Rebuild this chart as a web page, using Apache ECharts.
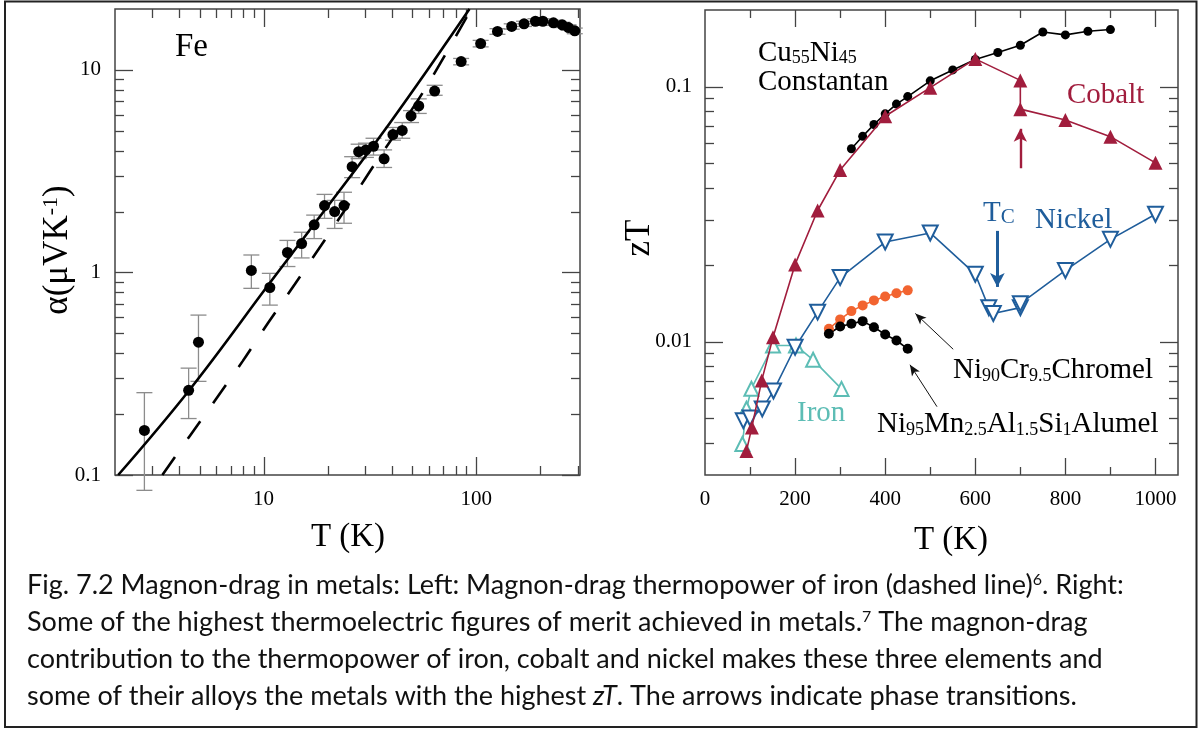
<!DOCTYPE html>
<html>
<head>
<meta charset="utf-8">
<script src="https://cdn.jsdelivr.net/npm/echarts@6/dist/echarts.min.js"></script>
<style>
  html, body { margin: 0; padding: 0; background: #fff; }
  #main { width: 1200px; height: 731px; }
</style>
</head>
<body>
<div id="main"></div>
<script>
// ---- left panel: Fe thermopower (log-log) ----
const feT     = [2.75, 4.44, 4.94, 8.76, 10.7, 12.95, 15.1, 17.3, 19.35, 21.6, 23.9, 26.1, 28.0, 30.3, 32.9, 36.9, 40.6, 44.9, 49.4, 53.7, 63.8, 85, 105, 126, 147, 168, 190, 206, 231, 254, 272, 291];
const feAlpha = [0.166, 0.262, 0.453, 1.024, 0.843, 1.255, 1.39, 1.72, 2.14, 2.0, 2.14, 3.33, 3.95, 4.03, 4.2, 3.64, 4.8, 5.03, 5.93, 6.64, 7.87, 11.0, 13.5, 15.5, 16.4, 16.9, 17.4, 17.4, 17.1, 16.7, 16.2, 15.6];
const feLow   = [0.084, 0.19, 0.29, 0.835, 0.69, 1.07, 1.18, 1.47, 1.85, 1.65, 1.75, 2.94, 3.65, 3.7, 3.8, 3.3, 4.5, 4.6, 5.5, 6.1, 7.5, 10.6, 13.0, 15.0, 15.9, 16.4, 16.9, 16.9, 16.6, 16.2, 15.7, 15.1];
const feHigh  = [0.255, 0.337, 0.616, 1.22, 0.99, 1.44, 1.58, 1.92, 2.43, 2.27, 2.49, 3.73, 4.3, 4.35, 4.6, 4.03, 5.2, 5.5, 6.3, 7.2, 8.4, 11.4, 14.0, 16.0, 16.9, 17.4, 17.9, 17.9, 17.6, 17.2, 16.7, 16.1];
// solid line (total) and dashed line (magnon drag)
const fitT      = [2.07, 4.48, 10.67, 15.3, 39.2, 93];
const fitAlpha  = [0.1, 0.263, 0.884, 1.46, 5.46, 20];
const dragT     = [3.34, 4.48, 7.96, 10.55, 14.05, 24.6, 32.9, 56.4, 93.5];
const dragAlpha = [0.1, 0.155, 0.364, 0.568, 0.877, 2.1, 3.36, 7.8, 19.5];

// ---- right panel: zT vs T ----
const constT  = [325, 350, 375, 400, 425, 450, 500, 550, 600, 650, 700, 750, 800, 850, 900];
const constZT = [0.0571, 0.0639, 0.0711, 0.0783, 0.0855, 0.0915, 0.1055, 0.1164, 0.128, 0.1363, 0.1455, 0.164, 0.1597, 0.165, 0.1676];
const coT  = [92, 104, 126, 151, 200, 250, 300, 400, 500, 600, 700, 700, 800, 900, 1000];
const coZT = [0.00373, 0.00461, 0.00705, 0.0104, 0.0201, 0.0327, 0.0471, 0.0766, 0.0992, 0.1286, 0.1059, 0.0817, 0.0741, 0.0637, 0.0503];
const niT  = [85, 100, 127, 152, 200, 250, 300, 400, 500, 600, 630, 640, 700, 700, 800, 900, 1000];
const niZT = [0.0049, 0.00502, 0.00545, 0.00641, 0.00951, 0.01306, 0.01784, 0.0246, 0.0267, 0.0184, 0.0136, 0.0129, 0.0136, 0.0141, 0.01904, 0.0252, 0.0316];
const ironT  = [83, 92, 103, 151, 202, 240, 303];
const ironZT = [0.00397, 0.00546, 0.00654, 0.00966, 0.00966, 0.00849, 0.00653];
const alloyT   = [275, 300, 325, 350, 375, 400, 425, 450];
const chromelZT = [0.01124, 0.01223, 0.01318, 0.01388, 0.01452, 0.01505, 0.0155, 0.0159];
const alumelZT  = [0.01074, 0.01147, 0.01176, 0.01204, 0.0114, 0.01067, 0.01011, 0.00938];
// arrows [from, to]
const coArrow      = [[700, 0.0479], [700, 0.0684]];
const tcArrow      = [[649, 0.0272], [649, 0.0164]];
const chromelArrow = [[551, 0.00934], [467, 0.0129]];
const alumelArrow  = [[515, 0.00556], [455, 0.00812]];

// tick marks
const leftXMajor  = [10, 100];
const leftXMinor  = [3, 4, 5, 6, 7, 8, 9, 20, 30, 40, 50, 60, 70, 80, 90, 200, 300];
const leftYMajor  = [0.1, 1, 10];
const leftYMinor  = [0.2, 0.3, 0.4, 0.5, 0.6, 0.7, 0.8, 0.9, 2, 3, 4, 5, 6, 7, 8, 9];
const rightXMajor = [200, 400, 600, 800, 1000];
const rightXMinor = [100, 300, 500, 700, 900];
const rightYMajor = [0.01, 0.1];
const rightYMinor = [0.004, 0.005, 0.006, 0.007, 0.008, 0.009, 0.02, 0.03, 0.04, 0.05, 0.06, 0.07, 0.08, 0.09];

const SERIF = '"Liberation Serif", "Times New Roman", serif';
const CO = '#a11d3d', NI = '#1f5d9b', FE = '#5dbdb5', CR = '#f26430';

const pairs = (xs, ys) => xs.map((x, i) => [x, ys[i]]);

function tickData(xMaj, xMin, yMaj, yMin, x0, y0) {
  return [].concat(
    xMaj.map(v => [v, y0, 0]), xMin.map(v => [v, y0, 1]),
    yMaj.map(v => [x0, v, 2]), yMin.map(v => [x0, v, 3]));
}

function tickRender(lens) {
  return function (params, api) {
    const cs = params.coordSys;
    const kind = api.value(2);
    const p = api.coord([api.value(0), api.value(1)]);
    const st = { stroke: '#444', lineWidth: 1.3 };
    const L = lens[kind];
    if (kind < 2) {
      const x = Math.round(p[0]) + 0.5, b = cs.y + cs.height;
      return { type: 'group', children: [
        { type: 'line', shape: { x1: x, y1: b, x2: x, y2: b - L }, style: st },
        { type: 'line', shape: { x1: x, y1: cs.y, x2: x, y2: cs.y + L }, style: st }
      ] };
    }
    const y = Math.round(p[1]) + 0.5, r = cs.x + cs.width;
    return { type: 'group', children: [
      { type: 'line', shape: { x1: cs.x, y1: y, x2: cs.x + L, y2: y }, style: st },
      { type: 'line', shape: { x1: r, y1: y, x2: r - L, y2: y }, style: st }
    ] };
  };
}

function errRender(params, api) {
  const t = api.value(0);
  const a = api.coord([t, api.value(1)]);
  const b = api.coord([t, api.value(2)]);
  const x = a[0], w = 8;
  const st = { stroke: '#8c8c8c', lineWidth: 1.3 };
  return { type: 'group', children: [
    { type: 'line', shape: { x1: x, y1: a[1], x2: x, y2: b[1] }, style: st },
    { type: 'line', shape: { x1: x - w, y1: a[1], x2: x + w, y2: a[1] }, style: st },
    { type: 'line', shape: { x1: x - w, y1: b[1], x2: x + w, y2: b[1] }, style: st }
  ] };
}

// decade labels only
const decade = v => {
  const l = Math.log10(v);
  return Math.abs(l - Math.round(l)) < 1e-6 ? String(+v.toPrecision(3)) : '';
};

// text with sub/superscripts, placed by its baseline
function label(x, base, text, F, S, color, shift, family) {
  family = family || SERIF;
  const subLH = 2 * (0.2 * F + 0.3 * S - shift);
  const supLH = 2 * (0.8 * F - 0.3 * S - 0.38 * F);
  return {
    type: 'text', x: x, y: base - 0.3 * F, silent: true,
    style: {
      text: text, fontSize: F, fontFamily: family, fill: color, lineHeight: F,
      align: 'left', verticalAlign: 'middle',
      rich: {
        m: { fontSize: F, fontFamily: family, fill: color, color: color, lineHeight: F, verticalAlign: 'top' },
        i: { fontSize: F, fontFamily: family, fontStyle: 'italic', fill: color, color: color, lineHeight: F, verticalAlign: 'top' },
        s: { fontSize: S, fontFamily: family, fill: color, color: color, lineHeight: subLH, verticalAlign: 'bottom' },
        p: { fontSize: S, fontFamily: family, fill: color, color: color, lineHeight: supLH, verticalAlign: 'top' }
      }
    }
  };
}

// caption font fitted to the width of the first line
const CAP_FONT = 'Lato, "Open Sans", sans-serif';
const capLines = [
  '{m|Fig. 7.2 Magnon-drag in metals: Left: Magnon-drag thermopower of iron (dashed line)}{p|6}{m|. Right:}',
  '{m|Some of the highest thermoelectric figures of merit achieved in metals.}{p|7}{m| The magnon-drag}',
  '{m|contribution to the thermopower of iron, cobalt and nickel makes these three elements and}',
  '{m|some of their alloys the metals with the highest }{i|zT}{m|. The arrows indicate phase transitions.}'
];
const mctx = document.createElement('canvas').getContext('2d');
mctx.font = '100px Lato';
const capW = mctx.measureText('Fig. 7.2 Magnon-drag in metals: Left: Magnon-drag thermopower of iron (dashed line)6. Right:').width;
const capSize = Math.max(18, Math.min(27, 100 * 1110 / capW));

const axisLabelStyle = { color: '#000', fontFamily: SERIF, fontSize: 21, formatter: decade };

const chart = echarts.init(document.getElementById('main'), null, { renderer: 'canvas' });

const option = {
  animation: false,
  backgroundColor: '#fff',
  grid: [
    { left: 115, top: 9, width: 465, height: 466, show: true, borderColor: '#444', borderWidth: 1.5, backgroundColor: 'transparent' },
    { left: 705, top: 10, width: 473, height: 465, show: true, borderColor: '#444', borderWidth: 1.5, backgroundColor: 'transparent' }
  ],
  xAxis: [
    { gridIndex: 0, type: 'log', logBase: 10, min: 2, max: 308,
      axisLine: { show: false }, axisTick: { show: false }, splitLine: { show: false },
      axisLabel: Object.assign({ margin: 14 }, axisLabelStyle) },
    { gridIndex: 1, type: 'value', min: 0, max: 1050, interval: 200,
      axisLine: { show: false }, axisTick: { show: false }, splitLine: { show: false },
      axisLabel: { margin: 14, color: '#000', fontFamily: SERIF, fontSize: 21,
        formatter: v => (v % 200 === 0 ? String(v) : '') } }
  ],
  yAxis: [
    { gridIndex: 0, type: 'log', logBase: 10, min: 0.1, max: 20,
      axisLine: { show: false }, axisTick: { show: false }, splitLine: { show: false },
      axisLabel: Object.assign({ margin: 14 }, axisLabelStyle) },
    { gridIndex: 1, type: 'log', logBase: 10, min: 0.003, max: 0.2,
      axisLine: { show: false }, axisTick: { show: false }, splitLine: { show: false },
      axisLabel: Object.assign({ margin: 13 }, axisLabelStyle) }
  ],
  series: [
    // left panel
    { type: 'custom', xAxisIndex: 0, yAxisIndex: 0, silent: true, z: 1,
      data: tickData(leftXMajor, leftXMinor, leftYMajor, leftYMinor, 2, 0.1),
      encode: { x: 0, y: 1 }, renderItem: tickRender([18, 9, 18, 9]) },
    { type: 'custom', xAxisIndex: 0, yAxisIndex: 0, silent: true, z: 2,
      data: feT.map((t, i) => [t, feLow[i], feHigh[i]]),
      encode: { x: 0, y: [1, 2] }, renderItem: errRender },
    { type: 'line', xAxisIndex: 0, yAxisIndex: 0, data: pairs(fitT, fitAlpha), smooth: 0.4,
      showSymbol: false, silent: true, z: 3, lineStyle: { color: '#000', width: 2.6 } },
    { type: 'line', xAxisIndex: 0, yAxisIndex: 0, data: pairs(dragT, dragAlpha), smooth: 0.3,
      showSymbol: false, silent: true, z: 3, lineStyle: { color: '#000', width: 2.6, type: [22, 22] } },
    { type: 'scatter', xAxisIndex: 0, yAxisIndex: 0, data: pairs(feT, feAlpha), symbolSize: 11,
      silent: true, z: 4, itemStyle: { color: '#000', opacity: 1 } },

    // right panel
    { type: 'custom', xAxisIndex: 1, yAxisIndex: 1, silent: true, z: 1,
      data: tickData(rightXMajor, rightXMinor, rightYMajor, rightYMinor, 0, 0.003),
      encode: { x: 0, y: 1 }, renderItem: tickRender([17, 8, 18, 9]) },
    { type: 'line', xAxisIndex: 1, yAxisIndex: 1, data: pairs(ironT, ironZT), silent: true, z: 3,
      symbol: 'emptyTriangle', symbolSize: 14,
      itemStyle: { color: FE, borderWidth: 1.3 }, lineStyle: { color: FE, width: 1.6 } },
    { type: 'line', xAxisIndex: 1, yAxisIndex: 1, data: pairs(niT, niZT), silent: true, z: 4,
      symbol: 'emptyTriangle', symbolRotate: 180, symbolSize: 15,
      itemStyle: { color: NI, borderWidth: 1.3 }, lineStyle: { color: NI, width: 1.6 },
      markLine: { silent: true, symbol: ['none', 'arrow'], symbolSize: [11, 14], label: { show: false },
        lineStyle: { color: NI, width: 3, type: 'solid' },
        data: [[{ coord: tcArrow[0] }, { coord: tcArrow[1] }]] } },
    { type: 'line', xAxisIndex: 1, yAxisIndex: 1, data: pairs(constT, constZT), silent: true, z: 4,
      symbol: 'circle', symbolSize: 9,
      itemStyle: { color: '#000' }, lineStyle: { color: '#000', width: 1.6 } },
    { type: 'line', xAxisIndex: 1, yAxisIndex: 1, data: pairs(coT, coZT), silent: true, z: 5,
      symbol: 'triangle', symbolSize: 14,
      itemStyle: { color: CO }, lineStyle: { color: CO, width: 1.6 },
      markLine: { silent: true, symbol: ['none', 'arrow'], symbolSize: [10, 13], label: { show: false },
        lineStyle: { color: CO, width: 2.4, type: 'solid' },
        data: [[{ coord: coArrow[0] }, { coord: coArrow[1] }]] } },
    { type: 'line', xAxisIndex: 1, yAxisIndex: 1, data: pairs(alloyT, chromelZT), silent: true, z: 4,
      symbol: 'circle', symbolSize: 10,
      itemStyle: { color: CR }, lineStyle: { color: CR, width: 1.6 } },
    { type: 'line', xAxisIndex: 1, yAxisIndex: 1, data: pairs(alloyT, alumelZT), silent: true, z: 4,
      symbol: 'circle', symbolSize: 10,
      itemStyle: { color: '#000' }, lineStyle: { color: '#000', width: 1.6 },
      markLine: { silent: true, symbol: ['none', 'arrow'], symbolSize: [7, 11], label: { show: false },
        lineStyle: { color: '#111', width: 1, type: 'solid' },
        data: [[{ coord: chromelArrow[0] }, { coord: chromelArrow[1] }],
               [{ coord: alumelArrow[0] }, { coord: alumelArrow[1] }]] } }
  ],
  graphic: [
    // outer frame
    { type: 'rect', silent: true, shape: { x: 5, y: 1.5, width: 1191.5, height: 725.5 },
      style: { fill: 'none', stroke: '#222', lineWidth: 2 } },
    // left panel texts
    label(175, 57, '{m|Fe}', 33, 20, '#000', 0),
    { type: 'text', x: 58, y: 250, rotation: Math.PI / 2, silent: true,
      style: { text: '{m|\u03b1(\u03bcVK}{p|-1}{m|)}', fontSize: 35, fontFamily: SERIF, fill: '#000', lineHeight: 35,
        align: 'center', verticalAlign: 'middle',
        rich: {
          m: { fontSize: 35, fontFamily: SERIF, fill: '#000', color: '#000', lineHeight: 35, verticalAlign: 'top' },
          p: { fontSize: 22, fontFamily: SERIF, fill: '#000', color: '#000', lineHeight: 16, verticalAlign: 'top' }
        } } },
    { type: 'text', x: 348, y: 537, silent: true,
      style: { text: 'T (K)', fontSize: 33, fontFamily: SERIF, fill: '#000', align: 'center', verticalAlign: 'middle' } },
    // right panel texts
    { type: 'text', x: 640, y: 238, rotation: Math.PI / 2, silent: true,
      style: { text: 'zT', fontSize: 35, fontFamily: SERIF, fill: '#000', align: 'center', verticalAlign: 'middle' } },
    { type: 'text', x: 951, y: 540, silent: true,
      style: { text: 'T (K)', fontSize: 33, fontFamily: SERIF, fill: '#000', align: 'center', verticalAlign: 'middle' } },
    label(758, 61.7, '{m|Cu}{s|55}{m|Ni}{s|45}', 29, 18, '#000', 4),
    label(758, 90.7, '{m|Constantan}', 29, 18, '#000', 4),
    label(1067, 104, '{m|Cobalt}', 29, 18, CO, 4),
    label(983, 222, '{m|T}{s|C}', 29, 21, NI, 7),
    label(1035, 229, '{m|Nickel}', 29, 18, NI, 4),
    label(797, 422, '{m|Iron}', 29, 18, FE, 4),
    label(953, 379, '{m|Ni}{s|90}{m|Cr}{s|9.5}{m|Chromel}', 29, 18, '#000', 4),
    label(877, 433, '{m|Ni}{s|95}{m|Mn}{s|2.5}{m|Al}{s|1.5}{m|Si}{s|1}{m|Alumel}', 29, 18, '#000', 4)
  ].concat(capLines.map((t, i) => label(27, 593 + i * 37, t, capSize, Math.round(capSize * 0.6), '#111', 0, CAP_FONT)))
};

chart.setOption(option);
</script>
</body>
</html>
